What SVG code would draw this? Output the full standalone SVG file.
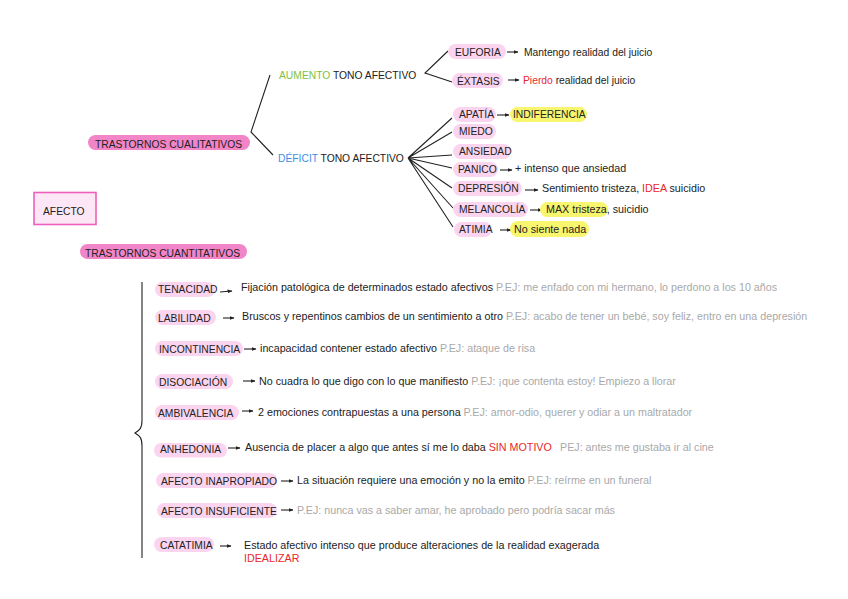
<svg xmlns="http://www.w3.org/2000/svg" width="848" height="599" viewBox="0 0 848 599">
<style>
text{font-family:"Liberation Sans",Arial,Helvetica,sans-serif;font-size:10.3px;fill:#222}
text.d{font-size:10.72px}
.g{fill:#a9a9a9}
.r{fill:#e8282b}
.grn{fill:#7dc142}
.blu{fill:#3d8fe6}
.pill{fill:#fbd5ef}
.hpill{fill:#f285c8}
.ypill{fill:#f8f66e}
.ln{stroke:#222;stroke-width:1.1;fill:none}
.ar{stroke:#222;stroke-width:1.1;fill:none;marker-end:url(#ah)}
</style>
<defs>
<marker id="ah" viewBox="0 0 10 10" refX="9" refY="5" markerWidth="5" markerHeight="5" markerUnits="userSpaceOnUse" orient="auto"><path d="M0,1 L10,5 L0,9 Z" fill="#222"/></marker>
</defs>
<rect width="848" height="599" fill="#fff"/>

<g id="connectors">
<path class="ln" d="M270,75 L251,132 L273,155"/>
<path class="ln" d="M448,51 L425,73 L452,82"/>
<path class="ln" d="M452,118 L408,158 M452,132 L408,158 M452,155 L408,158 M452,168 L408,158 M452,188 L408,158 M453,208 L408,158 M453,227 L408,158"/>
<path class="ln" d="M142,282 L142,420 C142,428 140,430 135,433 C140,436 142,438 142,446 L142,558"/>
<path class="ar" d="M507,52 L518,52"/>
<path class="ar" d="M508,80 L519,80"/>
<path class="ar" d="M497,115 L509,115"/>
<path class="ar" d="M500,170 L512,170"/>
<path class="ar" d="M525,190 L538,190"/>
<path class="ar" d="M530,210 L542,210"/>
<path class="ar" d="M500,230 L511,230"/>
<path class="ar" d="M220,292 L232,291"/>
<path class="ar" d="M223,318 L234,318"/>
<path class="ar" d="M244,349 L256,349"/>
<path class="ar" d="M243,381 L255,381"/>
<path class="ar" d="M242,411 L253,411"/>
<path class="ar" d="M228,448 L240,448"/>
<path class="ar" d="M281,481 L293,481"/>
<path class="ar" d="M281,510 L293,510"/>
<path class="ar" d="M220,546 L231,546"/>
</g>

<g id="afecto">
<rect x="34" y="192.5" width="62" height="32" fill="#fde6f6" stroke="#ee5fbf" stroke-width="1.6"/>
<text x="43" y="215">AFECTO</text>
</g>

<g id="trastornos-cualitativos">
<rect class="hpill" x="88" y="135" width="162" height="15" rx="7.5"/>
<text x="95" y="147.5">TRASTORNOS CUALITATIVOS</text>
</g>
<g id="trastornos-cuantitativos">
<rect class="hpill" x="80" y="244" width="167" height="15" rx="7.5"/>
<text x="85" y="256.5">TRASTORNOS CUANTITATIVOS</text>
</g>

<g id="aumento"><text x="279" y="79"><tspan class="grn">AUMENTO</tspan> TONO AFECTIVO</text></g>
<g id="deficit"><text x="278" y="162"><tspan class="blu">DÉFICIT</tspan> TONO AFECTIVO</text></g>

<g id="euforia">
<rect class="pill" x="448" y="44" width="58" height="15" rx="7.5"/>
<text x="455" y="55.5">EUFORIA</text>
<text x="524" y="56">Mantengo realidad del juicio</text>
</g>
<g id="extasis">
<rect class="pill" x="452" y="73" width="51" height="15" rx="7.5"/>
<text x="457" y="84.5">ÉXTASIS</text>
<text x="523" y="84"><tspan class="r">Pierdo</tspan> realidad del juicio</text>
</g>

<g id="apatia">
<rect class="pill" x="453" y="107" width="43" height="15" rx="7.5"/>
<text x="459" y="118">APATÍA</text>
<rect class="ypill" x="510" y="107" width="77" height="15" rx="7.5"/>
<text x="513" y="118">INDIFERENCIA</text>
</g>
<g id="miedo">
<rect class="pill" x="453" y="124" width="43" height="15" rx="7.5"/>
<text x="459" y="135">MIEDO</text>
</g>
<g id="ansiedad">
<rect class="pill" x="453" y="144" width="58" height="15" rx="7.5"/>
<text x="459" y="155">ANSIEDAD</text>
</g>
<g id="panico">
<rect class="pill" x="453" y="162" width="45" height="15" rx="7.5"/>
<text x="458" y="173">PANICO</text>
<text class="d" x="515" y="172">+ intenso que ansiedad</text>
</g>
<g id="depresion">
<rect class="pill" x="453" y="181" width="69" height="15" rx="7.5"/>
<text x="458" y="192">DEPRESIÓN</text>
<text class="d" x="542" y="192">Sentimiento tristeza, <tspan class="r">IDEA</tspan> suicidio</text>
</g>
<g id="melancolia">
<rect class="pill" x="453" y="202" width="75" height="15" rx="7.5"/>
<text x="459" y="213">MELANCOLÍA</text>
<rect class="ypill" x="540" y="202" width="68" height="15" rx="7.5"/>
<text class="d" x="546" y="213">MAX tristeza<tspan>, suicidio</tspan></text>
</g>
<g id="atimia">
<rect class="pill" x="454" y="222" width="38" height="15" rx="7.5"/>
<text x="459" y="233">ATIMIA</text>
<rect class="ypill" x="510" y="221" width="79" height="16" rx="8"/>
<text class="d" x="514" y="233">No siente nada</text>
</g>

<g id="tenacidad">
<rect class="pill" x="155" y="282" width="60" height="15" rx="7.5"/>
<text x="158" y="293">TENACIDAD</text>
<text class="d" x="241" y="291">Fijación patológica de determinados estado afectivos <tspan class="g">P.EJ: me enfado con mi hermano, lo perdono a los 10 años</tspan></text>
</g>
<g id="labilidad">
<rect class="pill" x="155" y="310" width="61" height="15" rx="7.5"/>
<text x="158" y="322">LABILIDAD</text>
<text class="d" x="242" y="320">Bruscos y repentinos cambios de un sentimiento a otro <tspan class="g">P.EJ: acabo de tener un bebé, soy feliz, entro en una depresión</tspan></text>
</g>
<g id="incontinencia">
<rect class="pill" x="155" y="341" width="88" height="15" rx="7.5"/>
<text x="159" y="353">INCONTINENCIA</text>
<text class="d" x="260" y="352">incapacidad contener estado afectivo <tspan class="g">P.EJ: ataque de risa</tspan></text>
</g>
<g id="disociacion">
<rect class="pill" x="155" y="374" width="78" height="15" rx="7.5"/>
<text x="159" y="386">DISOCIACIÓN</text>
<text class="d" x="259" y="385">No cuadra lo que digo con lo que manifiesto <tspan class="g">P.EJ: ¡que contenta estoy! Empiezo a llorar</tspan></text>
</g>
<g id="ambivalencia">
<rect class="pill" x="155" y="405" width="84" height="15" rx="7.5"/>
<text x="158" y="417">AMBIVALENCIA</text>
<text class="d" x="258" y="416">2 emociones contrapuestas a una persona <tspan class="g">P.EJ: amor-odio, querer y odiar a un maltratador</tspan></text>
</g>
<g id="anhedonia">
<rect class="pill" x="154" y="443" width="73" height="14.5" rx="7.25"/>
<text x="160" y="452.5">ANHEDONIA</text>
<text class="d" x="245" y="451">Ausencia de placer a algo que antes sí me lo daba <tspan class="r">SIN MOTIVO</tspan></text>
<text class="d g" x="560" y="451">PEJ: antes me gustaba ir al cine</text>
</g>
<g id="afecto-inapropiado">
<rect class="pill" x="156" y="473" width="121" height="15" rx="7.5"/>
<text x="161" y="485">AFECTO INAPROPIADO</text>
<text class="d" x="297" y="484">La situación requiere una emoción y no la emito <tspan class="g">P.EJ: reírme en un funeral</tspan></text>
</g>
<g id="afecto-insuficiente">
<rect class="pill" x="157" y="503" width="120" height="15" rx="7.5"/>
<text x="161" y="515">AFECTO INSUFICIENTE</text>
<text class="d g" x="297" y="514">P.EJ: nunca vas a saber amar, he aprobado pero podría sacar más</text>
</g>
<g id="catatimia">
<rect class="pill" x="154" y="537" width="60" height="15" rx="7.5"/>
<text x="160" y="549">CATATIMIA</text>
<text class="d" x="244" y="549">Estado afectivo intenso que produce alteraciones de la realidad exagerada</text>
<text class="d r" x="244" y="562">IDEALIZAR</text>
</g>
</svg>
